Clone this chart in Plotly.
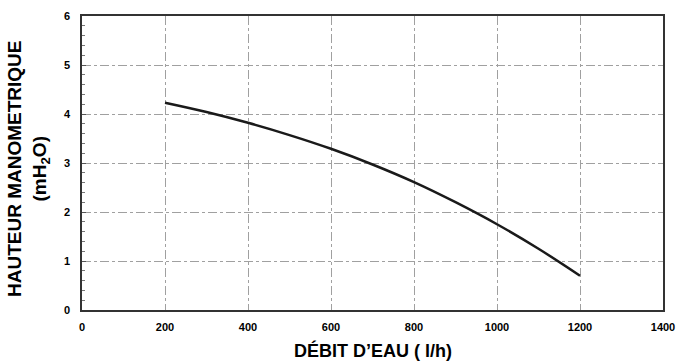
import plotly.graph_objects as go

debit = [200, 300, 400, 500, 600, 700, 800, 900, 1000, 1100, 1200]
hauteur = [4.23, 4.04, 3.82, 3.57, 3.29, 2.97, 2.61, 2.20, 1.75, 1.25, 0.70]

x_ticks = [0, 200, 400, 600, 800, 1000, 1200, 1400]
y_ticks = [0, 1, 2, 3, 4, 5, 6]

x_title = "DÉBIT D’EAU ( l/h)"
y_title = "HAUTEUR MANOMETRIQUE<br>(mH<sub>2</sub>O)"

FONT = "Liberation Sans, Arial, sans-serif"

fig = go.Figure()
fig.add_trace(go.Scatter(x=debit, y=hauteur, mode="lines",
                         line=dict(color="#1a1a1a", width=2.5, shape="spline"),
                         showlegend=False, hoverinfo="skip"))

fig.update_layout(
    width=679, height=361,
    margin=dict(l=82, r=16, t=16, b=51),
    plot_bgcolor="white", paper_bgcolor="white",
    font=dict(family=FONT, color="black"),
)

fig.update_xaxes(
    range=[0, 1400], tickvals=x_ticks, ticktext=[str(v) for v in x_ticks],
    showline=True, linecolor="#333", linewidth=1.5, mirror=True,
    showgrid=True, gridcolor="#a0a0a0", gridwidth=1, griddash="dashdot",
    zeroline=False, ticks="", ticklabelstandoff=6, automargin=False,
    ticklabeloverflow="allow",
    tickfont=dict(family=FONT, size=11, color="black", weight="bold"),
)
fig.update_yaxes(
    range=[0, 6], tickvals=y_ticks, ticktext=[str(v) for v in y_ticks],
    showline=True, linecolor="#333", linewidth=1.5, mirror=True,
    showgrid=True, gridcolor="#a0a0a0", gridwidth=1, griddash="dashdot",
    zeroline=False, ticks="inside", ticklen=4, tickcolor="#555",
    minor=dict(dtick=0.2, ticks="inside", ticklen=3, tickcolor="#777", showgrid=False),
    ticklabelstandoff=8, automargin=False,
    tickfont=dict(family=FONT, size=11, color="black", weight="bold"),
)

fig.add_annotation(text=f"<b>{x_title}</b>", xref="paper", yref="paper",
                   x=0.5, y=0, xanchor="center", yanchor="middle", yshift=-40,
                   showarrow=False, font=dict(family=FONT, size=18, color="black"))
fig.add_annotation(text=f"<b>{y_title}</b>", xref="paper", yref="paper",
                   x=0, y=0.5, xanchor="center", yanchor="middle", xshift=-54, yshift=-6,
                   textangle=-90, showarrow=False,
                   font=dict(family=FONT, size=19, color="black"))

fig.write_html("out.html", config={"displayModeBar": False},
               post_script="document.body.style.margin='0';document.body.style.overflow='hidden';")
